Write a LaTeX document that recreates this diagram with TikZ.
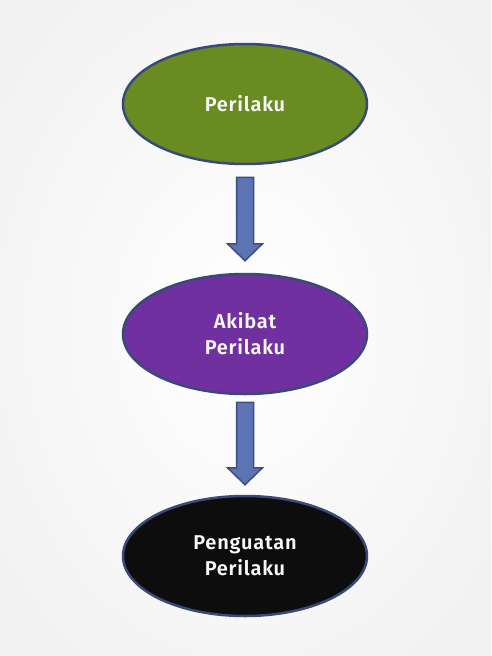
\documentclass[tikz,border=0pt]{standalone}
\usepackage{fontspec}
\setmainfont{Fira Sans}
\newfontfamily\labelfont[LetterSpace=4]{Fira Sans SemiBold}
\usetikzlibrary{shapes.geometric,calc}
\definecolor{bgc}{RGB}{242,242,242}
\definecolor{greenf}{RGB}{106,138,34}
\definecolor{purplef}{RGB}{112,48,160}
\definecolor{blackf}{RGB}{13,13,13}
\definecolor{edgec}{RGB}{58,74,120}
\definecolor{arrowf}{RGB}{93,116,180}
\definecolor{arrowd}{RGB}{60,78,128}
\definecolor{textc}{RGB}{248,248,248}
\tikzset{
  ell/.style={ellipse, draw=edgec, line width=2.5pt, minimum width=244pt, minimum height=120pt,
    inner sep=0pt, text=textc, align=center,
    font=\labelfont\fontsize{20}{26}\selectfont},
  barrow/.style={draw=arrowd, fill=arrowf, line width=1.5pt, line join=miter}
}
\newcommand\blockarr[2]{%
  \draw[barrow] ($(#1)+(-8.5,0)$) -- ($(#1)+(8.5,0)$) -- ($(#2)+(8.5,-17)$) -- ($(#2)+(17.5,-17)$)
   -- (#2) -- ($(#2)+(-17.5,-17)$) -- ($(#2)+(-8.5,-17)$) -- cycle;}
\begin{document}
\begin{tikzpicture}[x=1pt,y=-1pt]
\begin{scope}
\clip (0,0) rectangle (491,656);
\shade[inner color=white, outer color=bgc] (-60,-80) rectangle (551,736);
\end{scope}
\useasboundingbox (0,0) rectangle (491,656);
\node[ell, fill=greenf] (p) at (245,104) {Perilaku};
\node[ell, fill=purplef] (a) at (245,334) {Akibat\\Perilaku};
\node[ell, fill=blackf] (g) at (245,556) {Penguatan\\Perilaku};
\coordinate (t1) at ($(p.south)+(0,12)$);
\coordinate (h1) at ($(a.north)+(0,-12)$);
\coordinate (t2) at ($(a.south)+(0,7)$);
\coordinate (h2) at ($(g.north)+(0,-10)$);
\blockarr{t1}{h1}
\blockarr{t2}{h2}
\end{tikzpicture}
\end{document}
